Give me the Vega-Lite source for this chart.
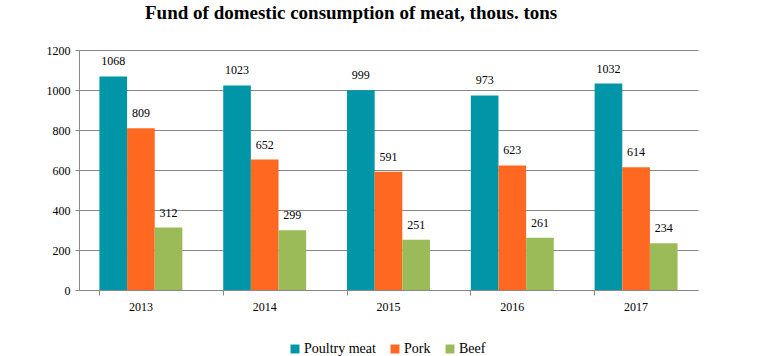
{
  "$schema": "https://vega.github.io/schema/vega-lite/v6.json",
  "width": 619,
  "height": 240,
  "autosize": {"type": "none"},
  "padding": {"left": 79, "top": 50, "right": 74, "bottom": 66},
  "background": "white",
  "title": {
    "text": "Fund of domestic consumption of meat, thous. tons",
    "font": "Liberation Serif",
    "fontSize": 19,
    "fontWeight": "bold",
    "color": "#000000",
    "anchor": "start",
    "dx": 99,
    "offset": 21
  },
  "data": {
    "values": [
      {"year": "2013", "type": "Poultry meat", "value": 1068},
      {"year": "2013", "type": "Pork", "value": 809},
      {"year": "2013", "type": "Beef", "value": 312},
      {"year": "2014", "type": "Poultry meat", "value": 1023},
      {"year": "2014", "type": "Pork", "value": 652},
      {"year": "2014", "type": "Beef", "value": 299},
      {"year": "2015", "type": "Poultry meat", "value": 999},
      {"year": "2015", "type": "Pork", "value": 591},
      {"year": "2015", "type": "Beef", "value": 251},
      {"year": "2016", "type": "Poultry meat", "value": 973},
      {"year": "2016", "type": "Pork", "value": 623},
      {"year": "2016", "type": "Beef", "value": 261},
      {"year": "2017", "type": "Poultry meat", "value": 1032},
      {"year": "2017", "type": "Pork", "value": 614},
      {"year": "2017", "type": "Beef", "value": 234}
    ]
  },
  "config": {
    "font": "Liberation Serif",
    "view": {"stroke": null},
    "style": {"guide-label": {"font": "Liberation Serif"}},
    "legend": {"labelFont": "Liberation Serif", "labelFontSize": 14, "labelColor": "#000000"}
  },
  "encoding": {
    "x": {
      "field": "year",
      "type": "nominal",
      "scale": {"paddingInner": 0.33, "paddingOuter": 0.165},
      "axis": {
        "title": null,
        "labelAngle": 0,
        "labelFont": "Liberation Serif",
        "labelFontSize": 12,
        "labelColor": "#000000",
        "domainColor": "#888888",
        "tickColor": "#888888",
        "tickSize": 5,
        "bandPosition": 0,
        "labelPadding": 6
      }
    },
    "xOffset": {"field": "type", "type": "nominal", "sort": ["Poultry meat", "Pork", "Beef"]},
    "y": {
      "field": "value",
      "type": "quantitative",
      "scale": {"domain": [0, 1200]},
      "axis": {
        "title": null,
        "format": "d",
        "values": [0, 200, 400, 600, 800, 1000, 1200],
        "labelFont": "Liberation Serif",
        "labelFontSize": 12,
        "labelColor": "#000000",
        "gridColor": "#888888",
        "gridOpacity": 1,
        "domainColor": "#888888",
        "tickColor": "#888888",
        "tickSize": 4,
        "labelPadding": 5
      }
    }
  },
  "layer": [
    {
      "mark": {"type": "bar"},
      "encoding": {
        "color": {
          "field": "type",
          "type": "nominal",
          "sort": ["Poultry meat", "Pork", "Beef"],
          "scale": {"domain": ["Poultry meat", "Pork", "Beef"], "range": ["#0096A8", "#FF6820", "#9BBB59"]},
          "legend": {
            "title": null,
            "orient": "none",
            "direction": "horizontal",
            "legendX": 209,
            "legendY": 292,
            "symbolType": "square",
            "symbolSize": 80,
            "symbolStrokeWidth": 0,
            "columnPadding": 12,
            "labelOffset": 2,
            "labelFont": "Liberation Serif",
            "labelFontSize": 14,
            "labelColor": "#000000"
          }
        }
      }
    },
    {
      "mark": {"type": "text", "baseline": "bottom", "dy": -8, "font": "Liberation Serif", "fontSize": 12, "color": "#000000"},
      "encoding": {
        "text": {"field": "value", "type": "quantitative"}
      }
    }
  ]
}
